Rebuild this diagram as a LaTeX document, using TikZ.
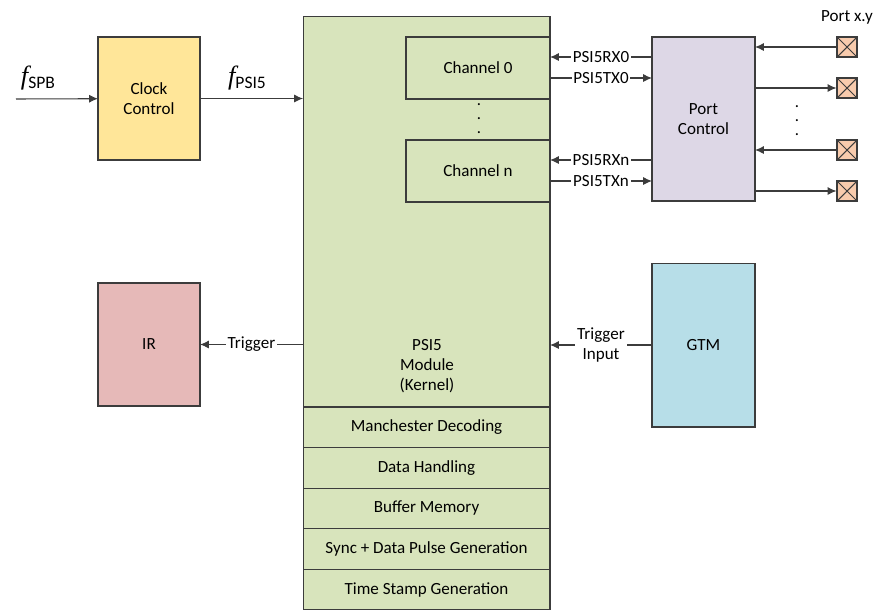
\documentclass[tikz,border=0pt]{standalone}
\usepackage{amsmath}
\usepackage{fontspec}
\setmainfont{Carlito}
\newfontfamily\fserif{Liberation Serif}
\usepackage{tikz}
\usetikzlibrary{positioning,arrows.meta}

\definecolor{clockfill}{HTML}{FFE699}
\definecolor{kernelfill}{HTML}{D8E4BC}
\definecolor{portfill}{HTML}{DDD7E6}
\definecolor{irfill}{HTML}{E6B9B8}
\definecolor{gtmfill}{HTML}{B7DEE8}
\definecolor{padfill}{HTML}{F8CBAD}
\definecolor{edgecol}{HTML}{3C3C3C}

\newcommand{\freq}[1]{{\fserif\itshape\fontsize{15}{15}\selectfont f}\raisebox{-2.5pt}{\fontsize{10}{10}\selectfont #1}}

\begin{document}
\begin{tikzpicture}[
  x=0.02cm, y=-0.02cm,
  font=\fontsize{9.7}{11.5}\selectfont,
  block/.style={draw=edgecol,line width=0.6pt,align=center,outer sep=0pt,inner sep=0pt},
  side/.style={block,minimum width=2.04cm,minimum height=2.46cm},
  band/.style={block,fill=kernelfill,minimum width=4.94cm,minimum height=0.812cm},
  chan/.style={block,fill=kernelfill,minimum width=2.88cm,minimum height=1.24cm},
  pad/.style={draw=edgecol,line width=0.6pt,fill=padfill,minimum size=0.4cm,inner sep=0pt,
    path picture={\draw[edgecol,line width=0.6pt] (path picture bounding box.south west) -- (path picture bounding box.north east)
      (path picture bounding box.north west) -- (path picture bounding box.south east);}},
  sig/.style={fill=white,inner sep=1pt,align=center},
  wire/.style={draw=edgecol,line width=0.6pt,-{Latex[length=5pt,width=4.5pt]}},
  vdots/.style={align=center,font=\fontsize{9.5}{8}\selectfont}
    ]

\useasboundingbox (0,0) rectangle (889,610);

% psi5 kernel
\node[block,fill=kernelfill,minimum width=4.94cm,minimum height=7.82cm] (kern) at (426.5,211.5) {};
\node[align=center] (kerntxt) at (427,366) {PSI5\\Module\\(Kernel)};
\node[band,below=0pt of kern] (manch) {Manchester Decoding};
\node[band,below=0pt of manch] (data) {Data Handling};
\node[band,below=0pt of data] (buf) {Buffer Memory};
\node[band,below=0pt of buf] (sync) {Sync + Data Pulse Generation};
\node[band,below=0pt of sync] (stamp) {Time Stamp Generation};

\node[chan] (ch0) at (478,68) {Channel 0};
\node[chan] (chn) at (478,171) {Channel n};
\node[vdots] (chdots) at (479,119) {.\\.\\.};

% side blocks
\node[side,fill=clockfill] (clk) at (149,98.5) {Clock\\Control};
\node[side,fill=irfill] (ir) at (149,344.5) {IR};
\node[block,fill=portfill,minimum width=2.06cm,minimum height=3.28cm] (pc) at (703.5,119) {Port\\Control};
\node[block,fill=gtmfill,minimum width=2.06cm,minimum height=3.28cm] (gtm) at (703.5,345) {GTM};

% ports
\node[pad] (pad1) at (847,47) {};
\node[pad] (pad2) at (847,88) {};
\node[pad] (pad3) at (847,150) {};
\node[pad] (pad4) at (847,191) {};
\node (portlbl) at (847,17) {Port x.y};
\node[vdots] (pcdots) at (797,121) {.\\.\\.};

% clock
\coordinate (spbin) at (16,99);
\node (fspb) at (38,78) {\freq{SPB}};
\node (fpsi) at (247,78) {\freq{PSI5}};
\draw[wire] (spbin) -- (clk);
\draw[wire] (clk) -- (kern.west |- clk);

% channel signals
\draw[wire] (pc.west |- 0,57) -- node[sig] {PSI5RX0} (kern.east |- 0,57);
\draw[wire] (kern.east |- 0,78) -- node[sig] {PSI5TX0} (pc.west |- 0,78);
\draw[wire] (pc.west |- 0,160) -- node[sig] {PSI5RXn} (kern.east |- 0,160);
\draw[wire] (kern.east |- 0,181) -- node[sig] {PSI5TXn} (pc.west |- 0,181);

\draw[wire] (pad1) -- (pc.east |- pad1);
\draw[wire] (pc.east |- pad2) -- (pad2);
\draw[wire] (pad3) -- (pc.east |- pad3);
\draw[wire] (pc.east |- pad4) -- (pad4);

% trigger
\draw[wire] (kern.west |- ir) -- node[sig] {Trigger} (ir);
\draw[wire] (gtm) -- node[sig] {Trigger\\Input} (kern.east |- gtm);
\end{tikzpicture}
\end{document}
